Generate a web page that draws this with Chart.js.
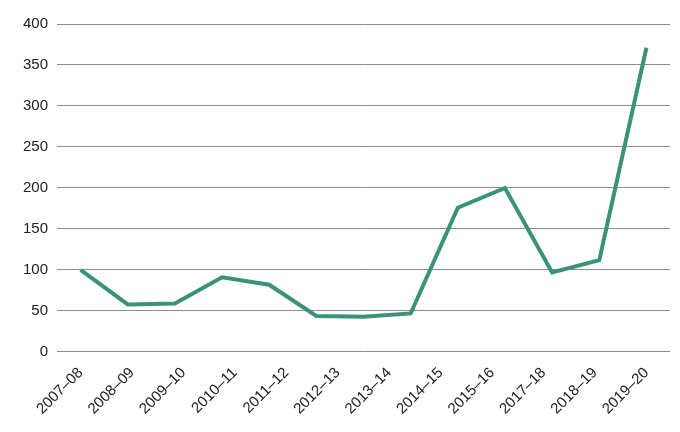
<!DOCTYPE html>
<html>
<head>
<meta charset="utf-8">
<script src="https://cdn.jsdelivr.net/npm/chart.js@4"></script>
<style>
  html, body { margin: 0; padding: 0; background: #fff; }
  #wrap { width: 680px; height: 432px; }
</style>
</head>
<body>
<div id="wrap"><canvas id="myChart"></canvas></div>
<script>
// tick labels under the x axis (12 of them, evenly spaced)
const tickLabels = ['2007–08', '2008–09', '2009–10', '2010–11', '2011–12', '2012–13',
  '2013–14', '2014–15', '2015–16', '2017–18', '2018–19', '2019–20'];
// 13 plotted values
const values = [100, 58, 59, 91, 82, 44, 43, 47, 176, 200, 97, 112, 371];
const yTicks = [0, 50, 100, 150, 200, 250, 300, 350, 400];

const points = values.map((v, i) => ({ x: i, y: v }));
const last = values.length - 1;

Chart.defaults.font.family = "'Liberation Sans', Arial, sans-serif";
Chart.defaults.font.size = 15;
Chart.defaults.color = '#222';

const ctx = document.getElementById('myChart').getContext('2d');
new Chart(ctx, {
  type: 'line',
  data: {
    datasets: [
      {
        data: points,
        fill: false,
        borderColor: '#3a9278',
        borderWidth: 4,
        pointRadius: 0,
        tension: 0
      }
    ]
  },
  options: {
    responsive: true,
    maintainAspectRatio: false,
    animation: false,
    layout: { padding: { top: 24, right: 10, left: 14, bottom: 10 } },
    plugins: { legend: { display: false }, tooltip: { enabled: false } },
    scales: {
      x: {
        type: 'linear',
        min: -0.5,
        max: last + 0.5,
        grid: { display: false },
        border: { display: false },
        afterBuildTicks: axis => {
          axis.ticks = tickLabels.map((_, i) => ({ value: i * last / (tickLabels.length - 1) }));
        },
        ticks: {
          minRotation: 45,
          maxRotation: 45,
          autoSkip: false,
          padding: 4,
          callback: (val, i) => tickLabels[i]
        }
      },
      y: {
        min: 0,
        max: 400,
        afterBuildTicks: axis => { axis.ticks = yTicks.map(v => ({ value: v })); },
        grid: { color: '#8c8c8c', lineWidth: 1, drawTicks: false },
        border: { display: false },
        ticks: { padding: 9 }
      }
    }
  }
});
</script>
</body>
</html>
